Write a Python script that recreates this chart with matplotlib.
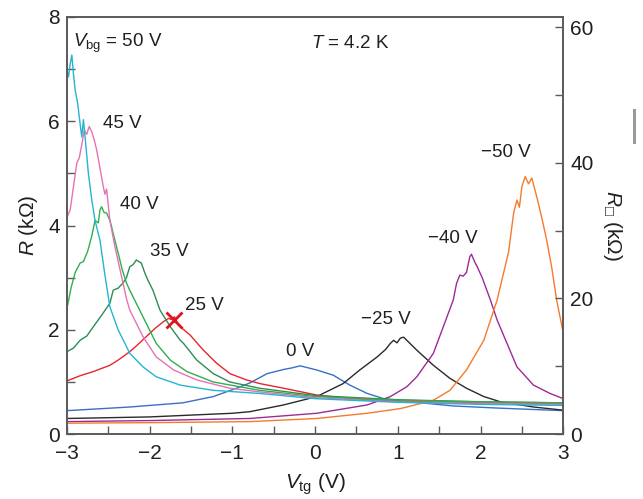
import matplotlib
matplotlib.use("Agg")
from matplotlib import pyplot as plt
from matplotlib.lines import Line2D
from matplotlib.ticker import MultipleLocator

plt.rcParams['font.family'] = ['Liberation Sans', 'DejaVu Sans']
plt.rcParams['mathtext.fontset'] = 'custom'
plt.rcParams['mathtext.it'] = 'Liberation Sans:italic'
plt.rcParams['mathtext.rm'] = 'Liberation Sans'

# Curves: top-gate voltage (V) and resistance (kOhm)
v_50 = [-3, -2.98, -2.96, -2.94, -2.92, -2.9, -2.87, -2.84, -2.82, -2.80, -2.78,
        -2.74, -2.70, -2.66, -2.6, -2.54, -2.48, -2.38, -2.28, -2.24, -2.08,
        -1.92, -1.63, -1.23, -0.67, 0, 1, 2, 3]
r_50 = [7.0, 6.85, 7.1, 7.27, 6.9, 6.6, 6.35, 5.95, 5.7, 6.03, 5.7,
        5.0, 4.5, 4.1, 3.72, 3.05, 2.44, 2.0, 1.68, 1.55, 1.29,
        1.10, 0.94, 0.84, 0.78, 0.68, 0.61, 0.57, 0.55]

v_45 = [-3, -2.96, -2.92, -2.88, -2.85, -2.82, -2.79, -2.76, -2.73, -2.70,
        -2.67, -2.64, -2.60, -2.56, -2.54, -2.52, -2.50, -2.48, -2.42, -2.35,
        -2.28, -2.24, -2.08, -1.92, -1.71, -1.43, -1.03, -0.67, 0, 1, 2, 3]
r_45 = [4.15, 4.3, 4.75, 5.2, 5.3, 5.55, 5.83, 5.75, 5.9, 5.8,
        5.65, 5.45, 5.1, 4.75, 4.6, 4.7, 4.4, 4.1, 3.6, 3.1,
        2.6, 2.38, 1.87, 1.48, 1.23, 1.04, 0.88, 0.81, 0.7, 0.62, 0.59, 0.57]

v_40 = [-3, -2.95, -2.9, -2.84, -2.8, -2.75, -2.70, -2.66, -2.62, -2.60, -2.58,
        -2.55, -2.52, -2.48, -2.44, -2.38, -2.33, -2.28, -2.24, -2.08, -1.92,
        -1.75, -1.55, -1.23, -0.67, 0, 1, 2, 3]
r_40 = [2.4, 2.8, 3.1, 3.28, 3.31, 3.5, 3.79, 4.1, 4.05, 4.3, 4.36,
        4.25, 4.24, 4.1, 3.85, 3.47, 3.15, 2.9, 2.76, 2.25, 1.74,
        1.42, 1.20, 1.0, 0.84, 0.72, 0.65, 0.62, 0.6]

v_35 = [-3, -2.92, -2.84, -2.76, -2.68, -2.58, -2.48, -2.44, -2.38, -2.32, -2.28,
        -2.24, -2.20, -2.16, -2.12, -2.10, -2.06, -2.02, -1.96, -1.875, -1.75,
        -1.63, -1.59, -1.43, -1.23, -1.03, -0.67, 0, 1, 2, 3]
r_35 = [1.58, 1.65, 1.80, 1.88, 2.06, 2.28, 2.51, 2.76, 2.8, 2.9, 3.0,
        3.21, 3.25, 3.34, 3.3, 3.28, 3.1, 2.95, 2.76, 2.38, 2.06,
        1.8, 1.74, 1.42, 1.16, 1.0, 0.88, 0.74, 0.66, 0.62, 0.6]

v_25 = [-3, -2.84, -2.68, -2.48, -2.38, -2.24, -2.14, -2.04, -1.94, -1.83,
        -1.77, -1.74, -1.70, -1.66, -1.63, -1.51, -1.35, -1.19, -1.03, -0.83,
        -0.67, -0.38, 0.02, 0.42, 1, 2, 3]
r_25 = [1.02, 1.12, 1.2, 1.32, 1.42, 1.58, 1.72, 1.87, 2.02, 2.16,
        2.22, 2.2, 2.25, 2.12, 2.06, 1.9, 1.61, 1.36, 1.16, 1.04,
        0.97, 0.88, 0.75, 0.68, 0.63, 0.6, 0.58]

v_0 = [-3, -2.24, -1.6, -1.23, -0.95, -0.79, -0.58, -0.38, -0.28, -0.18,
       -0.08, 0.02, 0.22, 0.42, 0.63, 0.83, 1.03, 1.67, 2.2, 3]
r_0 = [0.45, 0.52, 0.6, 0.72, 0.88, 0.98, 1.16, 1.24, 1.27, 1.31,
       1.27, 1.23, 1.13, 0.94, 0.78, 0.68, 0.64, 0.54, 0.5, 0.45]

v_m25 = [-3, -2, -1, -0.79, -0.38, 0.02, 0.34, 0.54, 0.75, 0.85, 0.91, 0.95,
         0.99, 1.03, 1.07, 1.23, 1.43, 1.63, 1.83, 2.04, 2.24, 2.64, 3]
r_m25 = [0.3, 0.33, 0.4, 0.43, 0.56, 0.72, 0.97, 1.23, 1.48, 1.62, 1.74, 1.80,
         1.75, 1.84, 1.86, 1.61, 1.32, 1.07, 0.88, 0.72, 0.62, 0.52, 0.46]

v_m40 = [-3, -2, -0.79, 0.02, 0.63, 0.91, 1.11, 1.23, 1.43, 1.55, 1.67, 1.71,
         1.75, 1.79, 1.83, 1.87, 1.89, 1.93, 1.96, 2.02, 2.12, 2.20, 2.32, 2.44,
         2.64, 2.84, 3]
r_m40 = [0.24, 0.26, 0.30, 0.40, 0.56, 0.72, 0.91, 1.10, 1.55, 2.06, 2.57, 2.89,
         3.05, 3.03, 3.1, 3.40, 3.45, 3.3, 3.21, 3.0, 2.57, 2.19, 1.74, 1.29,
         0.94, 0.78, 0.68]

v_m50 = [-3, -2, -0.79, 0.02, 0.63, 1.03, 1.11, 1.43, 1.63, 1.83, 2.04, 2.20,
         2.28, 2.34, 2.40, 2.44, 2.47, 2.50, 2.54, 2.58, 2.62, 2.68, 2.74, 2.80,
         2.86, 2.92, 3]
r_m50 = [0.21, 0.22, 0.24, 0.30, 0.40, 0.49, 0.52, 0.65, 0.84, 1.23, 1.80, 2.57,
         3.1, 3.5, 4.24, 4.49, 4.35, 4.75, 4.94, 4.8, 4.91, 4.55, 4.15, 3.72,
         3.2, 2.57, 1.94]

curves = [
    (v_0, r_0, "#3a6fc6"),
    (v_m25, r_m25, "#2a2a2a"),
    (v_m40, r_m40, "#9c2a98"),
    (v_m50, r_m50, "#f47b2e"),
    (v_25, r_25, "#e8242c"),
    (v_35, r_35, "#2e8c55"),
    (v_40, r_40, "#2fb04c"),
    (v_45, r_45, "#e672b4"),
    (v_50, r_50, "#25b4d2"),
]

labels = ["45 V", "40 V", "35 V", "25 V", "0 V", "\u221225 V", "\u221240 V", "\u221250 V"]
label_x = [-2.56, -2.36, -2.0, -1.57, -0.35, 0.55, 1.37, 2.0]
label_y = [5.96, 4.4, 3.5, 2.46, 1.58, 2.19, 3.76, 5.4]

text_color = "#231f20"
spine_color = "#5a5a5a"

fig = plt.figure(figsize=(6.43, 4.99), dpi=100)
ax = fig.add_axes([0.104, 0.130, 0.772, 0.836])

for v, r, c in curves:
    ax.plot(v, r, color=c, lw=1.0)

# the red cross on the 25 V curve
ax.plot([-1.71], [2.19], marker="x", color="#e0141e", ms=11, mew=2.0)

for lab, lx, ly in zip(labels, label_x, label_y):
    ax.text(lx, ly, lab, fontsize=13.5, color=text_color, va="center", ha="left")

ax.text(-2.92, 7.5, "$V_{\\rm bg}$ = 50 V", fontsize=13.5, color=text_color, va="center")
ax.text(-0.05, 7.5, "$T$ = 4.2 K", fontsize=13.5, color=text_color, va="center")

ax.set_xlim(-3, 3)
ax.set_ylim(0, 8)
ax.xaxis.set_minor_locator(MultipleLocator(0.5))
ax.yaxis.set_major_locator(MultipleLocator(2))
ax.yaxis.set_minor_locator(MultipleLocator(1))
ax.set_xticks([-3, -2, -1, 0, 1, 2, 3])
ax.set_xticklabels(["\u22123", "\u22122", "\u22121", "0", "1", "2", "3"])
ax.tick_params(which="both", direction="in", color=spine_color, labelsize=15,
               labelcolor=text_color, top=False, length=6, width=1.0)
ax.tick_params(axis="x", pad=7)
ax.tick_params(axis="y", pad=5)
ax.set_xlabel("$V_{\\rm tg}$ (V)", fontsize=15, color=text_color, labelpad=6)
ax.set_ylabel("$R$ (k\u03a9)", fontsize=15, color=text_color, labelpad=6)

ax2 = ax.twinx()
ax2.set_ylim(0, 61.5)
ax2.yaxis.set_major_locator(MultipleLocator(20))
ax2.yaxis.set_minor_locator(MultipleLocator(10))
ax2.tick_params(which="both", direction="in", color=spine_color, labelsize=15,
                labelcolor=text_color, length=6, width=1.0, pad=5)
ax2.set_ylabel("$R_{\u25a1}$ (k\u03a9)", fontsize=15, color=text_color,
               rotation=270, labelpad=22)

for a in (ax, ax2):
    for s in a.spines.values():
        s.set_color(spine_color)
        s.set_linewidth(1.2)

# small grey mark at the right edge of the page
fig.add_artist(Line2D([634 / 643, 634 / 643], [1 - 110 / 499, 1 - 142 / 499],
                      color="#9a9a9a", lw=2.2))

fig.savefig("out.png", dpi=100)
